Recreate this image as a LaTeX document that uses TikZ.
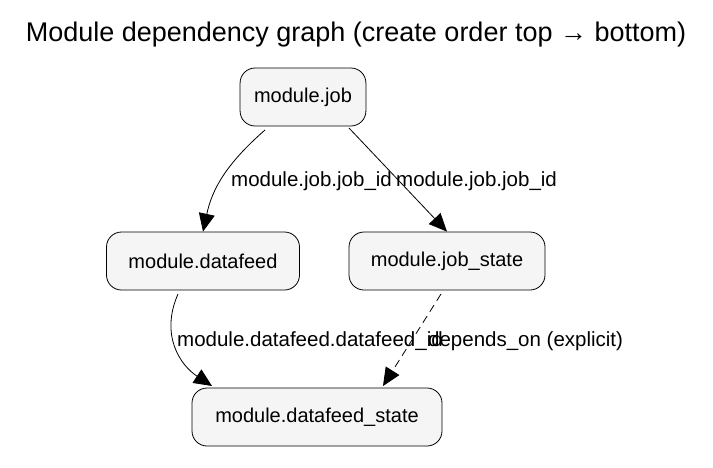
\documentclass[tikz,border=0pt]{standalone}
\usepackage{fontspec}
\setmainfont{Liberation Sans}
\usetikzlibrary{arrows.meta, positioning}
\tikzset{
  module/.style = {
    draw, thick, fill=black!4, rounded corners=15pt,
    minimum height=58pt, inner xsep=14pt, font=\fontsize{20}{24}\selectfont
  },
  dep/.style = {
    thick, -{Triangle[length=18pt,width=16pt]}
  },
  lbl/.style = {
    font=\fontsize{20.5}{24}\selectfont, anchor=west, inner sep=1pt
  }
}
\begin{document}
\begin{tikzpicture}[x=1pt, y=-1pt]
  \useasboundingbox (0,0) rectangle (713,467);

  % Title
  \node[font=\fontsize{27}{31}\selectfont] (title) at (356,35)
    {Module dependency graph (create order top \textrightarrow\ bottom)};

  % Modules
  \node[module, minimum width=110pt] (job) at (303,97) {module.job};
  \node[module, minimum width=193pt] (datafeed) at (203,261) {module.datafeed};
  \node[module, minimum width=196pt] (jobstate) at (447,261) {module.job\_state};
  \node[module, minimum width=250pt] (dfstate) at (317,417) {module.datafeed\_state};

  % End points
  \coordinate (j1) at (265,130);
  \coordinate (j2) at (349,128);
  \coordinate (d1) at (178,294);
  \coordinate (s1) at (441,294);
  \coordinate (t1) at (212,386);
  \coordinate (t2) at (383,386);

  % Dependencies
  \draw[dep] (j1) .. controls (225,165) and (212,190) .. (datafeed.north);
  \node[lbl] (l1) at (230,181) {module.job.job\_id};

  \draw[dep] (j2) -- (jobstate.north);
  \node[lbl] (l2) at (395,181) {module.job.job\_id};

  \draw[dep] (d1) .. controls (160,335) and (180,365) .. (t1);
  \node[lbl] (l3) at (176,341) {module.datafeed.datafeed\_id};

  \draw[dep, dash pattern=on 8pt off 5pt] (s1) -- (t2);
  \node[lbl] (l4) at (427,341) {depends\_on (explicit)};
\end{tikzpicture}
\end{document}
